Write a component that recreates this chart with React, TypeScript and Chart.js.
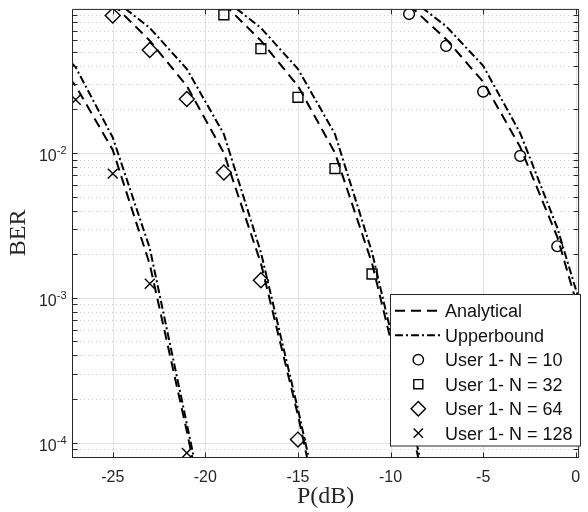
import React, { useEffect, useRef } from 'react';
import { Chart, registerables } from 'chart.js';

Chart.register(...registerables);

// ---------- data ----------
const xTicks = [-25, -20, -15, -10, -5, 0];
const yMajorTicks = [1e-4, 1e-3, 1e-2];
const yTickExponents = ['-4', '-3', '-2'];

const X_MIN = -27.2;
const X_MAX = 0.18;
const Y_MIN = 7.965e-5;
const Y_MAX = 0.09874;

// simulation markers
const simX10 = [-9, -7, -5, -3, -1];
const simBer10 = [0.091, 0.0548, 0.0265, 0.00954, 0.00227];
const simX32 = [-19, -17, -15, -13, -11];
const simBer32 = [0.09, 0.0525, 0.0242, 0.0078, 0.00146];
const simX64 = [-25, -23, -21, -19, -17, -15];
const simBer64 = [0.0888, 0.0514, 0.0236, 0.00732, 0.00132, 0.000105];
const simX128 = [-27, -25, -23, -21];
const simBer128 = [0.0233, 0.0072, 0.00125, 0.000085];

// analytical and upper-bound curves
const curveX10 = [-9, -7, -5, -3, -1, 1];
const analytic10 = [0.105, 0.061, 0.031, 0.011, 0.00264, 0.00035];
const upper10 = [0.118, 0.075, 0.04, 0.0137, 0.00305, 0.00043];

const curveX32 = [-19, -17, -15, -13, -11, -9, -7];
const analytic32 = [0.107, 0.0596, 0.029, 0.01, 0.00173, 0.000155, 0.00001];
const upper32 = [0.116, 0.073, 0.038, 0.0135, 0.00206, 0.00017, 0.000012];

const curveX64 = [-25, -23, -21, -19, -17, -15, -13];
const analytic64 = [0.107, 0.0596, 0.029, 0.01, 0.00173, 0.000155, 0.00001];
const upper64 = [0.116, 0.073, 0.038, 0.0135, 0.00206, 0.00017, 0.000012];

const curveX128 = [-29, -27, -25, -23, -21, -19];
const analytic128 = [0.0596, 0.029, 0.0105, 0.0017, 0.00012, 0.000007];
const upper128 = [0.073, 0.039, 0.0128, 0.0022, 0.000135, 0.000008];

const legendLabels = [
  'Analytical',
  'Upperbound',
  'User 1- N = 10',
  'User 1- N = 32',
  'User 1- N = 64',
  'User 1- N = 128',
];
const markerStyles = ['circle', 'rect', 'rectRot', 'crossRot'];
const xTitle = 'P(dB)';
const yTitle = 'BER';

// ---------- styling ----------
const DASH = [10, 6];
const DASHDOT = [8, 3, 2, 3];
const AXIS_COLOR = '#262626';
const SANS = '"Liberation Sans", Arial, Helvetica, sans-serif';
const SERIF = '"Liberation Serif", "Times New Roman", serif';

const pts = (xs: number[], ys: number[]) => xs.map((x, i) => ({ x, y: ys[i] }));

function drawMarker(ctx: CanvasRenderingContext2D, style: string, x: number, y: number, r: number) {
  ctx.beginPath();
  if (style === 'circle') {
    ctx.arc(x, y, r, 0, Math.PI * 2);
  } else if (style === 'rect') {
    const s = r * Math.SQRT2;
    ctx.rect(x - s / 2, y - s / 2, s, s);
  } else if (style === 'rectRot') {
    ctx.moveTo(x, y - r);
    ctx.lineTo(x + r, y);
    ctx.lineTo(x, y + r);
    ctx.lineTo(x - r, y);
    ctx.closePath();
  } else {
    const d = r * Math.SQRT1_2;
    ctx.moveTo(x - d, y - d);
    ctx.lineTo(x + d, y + d);
    ctx.moveTo(x + d, y - d);
    ctx.lineTo(x - d, y + d);
  }
  ctx.stroke();
}

const matlabPlugin = {
  id: 'matlabAxes',
  beforeDatasetsDraw(chart: any) {
    const { ctx, chartArea: a, scales } = chart;
    const x = scales.x;
    const y = scales.y;
    ctx.save();
    // minor horizontal grid (dotted)
    ctx.lineWidth = 1;
    ctx.strokeStyle = '#cdcdcd';
    ctx.setLineDash([1, 3]);
    for (let n = -5; n <= -1; n++) {
      for (let k = 2; k <= 9; k++) {
        const v = k * Math.pow(10, n);
        if (v < Y_MIN || v > Y_MAX) continue;
        const py = Math.round(y.getPixelForValue(v)) + 0.5;
        ctx.beginPath();
        ctx.moveTo(a.left, py);
        ctx.lineTo(a.right, py);
        ctx.stroke();
      }
    }
    ctx.setLineDash([]);
    ctx.strokeStyle = '#e2e2e2';
    for (const v of yMajorTicks) {
      const py = Math.round(y.getPixelForValue(v)) + 0.5;
      ctx.beginPath();
      ctx.moveTo(a.left, py);
      ctx.lineTo(a.right, py);
      ctx.stroke();
    }
    for (const v of xTicks) {
      const px = Math.round(x.getPixelForValue(v)) + 0.5;
      ctx.beginPath();
      ctx.moveTo(px, a.top);
      ctx.lineTo(px, a.bottom);
      ctx.stroke();
    }
    ctx.restore();
  },
  afterDatasetsDraw(chart: any) {
    const { ctx, chartArea: a, scales } = chart;
    const x = scales.x;
    const y = scales.y;
    const L = a.left + 0.5;
    const R = a.right - 0.5;
    const T = a.top + 0.5;
    const B = a.bottom + 0.5;
    ctx.save();
    ctx.strokeStyle = AXIS_COLOR;
    ctx.lineWidth = 1;
    ctx.setLineDash([]);
    ctx.beginPath();
    ctx.rect(L, T, R - L, B - T);
    ctx.stroke();
    const TL = 5;
    // x ticks
    ctx.beginPath();
    for (const v of xTicks) {
      const px = Math.round(x.getPixelForValue(v)) + 0.5;
      ctx.moveTo(px, B);
      ctx.lineTo(px, B - TL);
      ctx.moveTo(px, T);
      ctx.lineTo(px, T + TL);
    }
    // y ticks major + minor
    const yt: number[] = [...yMajorTicks];
    for (let n = -5; n <= -1; n++) {
      for (let k = 2; k <= 9; k++) {
        const v = k * Math.pow(10, n);
        if (v >= Y_MIN && v <= Y_MAX) yt.push(v);
      }
    }
    for (const v of yt) {
      const py = Math.round(y.getPixelForValue(v)) + 0.5;
      ctx.moveTo(L, py);
      ctx.lineTo(L + TL, py);
      ctx.moveTo(R, py);
      ctx.lineTo(R - TL, py);
    }
    ctx.stroke();

    // x tick labels
    ctx.fillStyle = AXIS_COLOR;
    ctx.font = `16px ${SANS}`;
    ctx.textAlign = 'center';
    ctx.textBaseline = 'alphabetic';
    for (const v of xTicks) {
      ctx.fillText(String(v), x.getPixelForValue(v), 481.5);
    }
    // y tick labels: 10^exp
    yMajorTicks.forEach((v, i) => {
      const py = y.getPixelForValue(v);
      const exp = yTickExponents[i];
      ctx.font = `11px ${SANS}`;
      ctx.textAlign = 'right';
      const ew = ctx.measureText(exp).width;
      const rightX = 66.5;
      ctx.fillText(exp, rightX, py + 1.5);
      ctx.font = `16px ${SANS}`;
      ctx.fillText('10', rightX - ew, py + 8);
    });

    // axis titles
    ctx.fillStyle = '#262626';
    ctx.font = `24px ${SERIF}`;
    ctx.textAlign = 'center';
    ctx.textBaseline = 'alphabetic';
    ctx.fillText(xTitle, (a.left + a.right) / 2, 503);
    ctx.save();
    ctx.translate(25.4, (a.top + a.bottom) / 2);
    ctx.rotate(-Math.PI / 2);
    ctx.fillText(yTitle, 0, 0);
    ctx.restore();
    ctx.restore();
  },
  afterDraw(chart: any) {
    const { ctx } = chart;
    ctx.save();
    // legend box
    const lx = 390.5, ly = 294.5, lw = 190, lh = 151.5;
    ctx.fillStyle = '#ffffff';
    ctx.fillRect(lx, ly, lw, lh);
    ctx.strokeStyle = AXIS_COLOR;
    ctx.lineWidth = 1;
    ctx.setLineDash([]);
    ctx.strokeRect(lx, ly, lw, lh);

    const rows = [310.7, 335.2, 359.7, 384.2, 408.7, 433.2];
    const textX = 445;
    ctx.font = `18px ${SANS}`;
    ctx.textAlign = 'left';
    ctx.textBaseline = 'alphabetic';
    ctx.fillStyle = '#111111';
    legendLabels.forEach((lab, i) => {
      ctx.fillText(lab, textX, rows[i] + 6.5);
    });
    // line samples
    ctx.strokeStyle = '#000000';
    ctx.lineWidth = 2;
    ctx.setLineDash(DASH);
    ctx.beginPath();
    ctx.moveTo(395, rows[0]);
    ctx.lineTo(441.7, rows[0]);
    ctx.stroke();
    ctx.setLineDash(DASHDOT);
    ctx.beginPath();
    ctx.moveTo(395, rows[1]);
    ctx.lineTo(441.7, rows[1]);
    ctx.stroke();
    ctx.setLineDash([]);
    ctx.lineWidth = 1.4;
    const mr = [5.2, 6.4, 7.2, 6.6];
    markerStyles.forEach((s, i) => {
      drawMarker(ctx, s, 418.3, rows[i + 2], mr[i]);
    });
    ctx.restore();
  },
};

const lineDs = (label: string, xs: number[], ys: number[], dash: number[]) => ({
  label,
  data: pts(xs, ys),
  showLine: true,
  borderColor: '#000000',
  borderWidth: 2,
  borderDash: dash,
  pointRadius: 0,
  fill: false,
  tension: 0,
  clip: 0,
});

const markerDs = (label: string, xs: number[], ys: number[], style: string, r: number) => ({
  label,
  data: pts(xs, ys),
  showLine: false,
  pointStyle: style,
  pointRadius: r,
  pointBorderWidth: 1.4,
  pointBorderColor: '#000000',
  pointBackgroundColor: 'rgba(0,0,0,0)',
});

export default function App() {
  const ref = useRef<HTMLCanvasElement | null>(null);
  useEffect(() => {
    if (!ref.current) return;
    const chart = new Chart(ref.current, {
      type: 'scatter',
      data: {
        datasets: [
          markerDs(legendLabels[2], simX10, simBer10, markerStyles[0], 5.4),
          markerDs(legendLabels[3], simX32, simBer32, markerStyles[1], 7),
          markerDs(legendLabels[4], simX64, simBer64, markerStyles[2], 7.5),
          markerDs(legendLabels[5], simX128, simBer128, markerStyles[3], 7),
          lineDs('Analytical N=10', curveX10, analytic10, DASH),
          lineDs('Upperbound N=10', curveX10, upper10, DASHDOT),
          lineDs('Analytical N=32', curveX32, analytic32, DASH),
          lineDs('Upperbound N=32', curveX32, upper32, DASHDOT),
          lineDs('Analytical N=64', curveX64, analytic64, DASH),
          lineDs('Upperbound N=64', curveX64, upper64, DASHDOT),
          lineDs('Analytical N=128', curveX128, analytic128, DASH),
          lineDs('Upperbound N=128', curveX128, upper128, DASHDOT),
        ] as any,
      },
      options: {
        animation: false,
        responsive: false,
        events: [],
        layout: { padding: { left: 72, top: 6, right: 1, bottom: 55 } },
        plugins: { legend: { display: false }, tooltip: { enabled: false } },
        scales: {
          x: {
            type: 'linear',
            min: X_MIN,
            max: X_MAX,
            display: false,
            bounds: 'data',
            afterBuildTicks: (s: any) => {
              s.ticks = xTicks.map((v) => ({ value: v }));
            },
          },
          y: {
            type: 'logarithmic',
            min: Y_MIN,
            max: Y_MAX,
            display: false,
            bounds: 'data',
            afterBuildTicks: (s: any) => {
              s.ticks = yMajorTicks.map((v) => ({ value: v }));
            },
          },
        },
      } as any,
      plugins: [matlabPlugin],
    });
    return () => chart.destroy();
  }, []);
  return (
    <div style={{ position: 'absolute', left: 0, top: 0, width: 588, height: 512, background: '#ffffff' }}>
      <canvas ref={ref} width={588} height={512} style={{ display: 'block', width: 588, height: 512 }} />
    </div>
  );
}
